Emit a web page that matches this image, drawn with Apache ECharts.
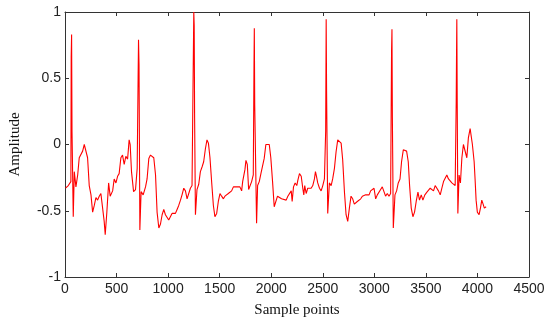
<!DOCTYPE html>
<html>
<head>
<meta charset="utf-8">
<script src="https://cdn.jsdelivr.net/npm/echarts@6/dist/echarts.min.js"></script>
<style>
html,body{margin:0;padding:0;background:#fff;}
#chart{width:550px;height:328px;}
</style>
</head>
<body>
<div id="chart"></div>
<script>
// Sample index of each point
var samples = [
  5, 10, 32, 48, 57, 60, 64, 68, 80, 90, 106, 123, 138, 155, 171, 187, 203, 219, 235, 252,
  268, 284, 300, 316, 332, 348, 365, 380, 390, 406, 423, 438, 462, 477, 494, 510, 525, 542, 558, 574,
  590, 607, 622, 632, 645, 665, 684, 700, 709, 713, 718, 726, 738, 758, 781, 796, 813, 829, 845, 861,
  878, 893, 910, 926, 942, 958, 974, 990, 1006, 1023, 1038, 1055, 1071, 1087, 1103, 1120, 1135, 1152, 1168, 1184,
  1200, 1216, 1232, 1238, 1249, 1253, 1257, 1265, 1280, 1297, 1313, 1329, 1345, 1362, 1377, 1391, 1406, 1423, 1439, 1454,
  1471, 1487, 1503, 1519, 1536, 1551, 1568, 1584, 1600, 1616, 1633, 1648, 1664, 1681, 1696, 1713, 1723, 1735, 1745, 1755,
  1768, 1781, 1794, 1810, 1826, 1833, 1836, 1840, 1858, 1868, 1884, 1900, 1916, 1932, 1948, 1964, 1981, 1996, 2013, 2029,
  2045, 2061, 2077, 2100, 2113, 2145, 2161, 2177, 2194, 2203, 2216, 2232, 2248, 2258, 2274, 2291, 2306, 2316, 2325, 2339,
  2354, 2371, 2387, 2403, 2419, 2429, 2439, 2451, 2468, 2484, 2500, 2516, 2528, 2533, 2537, 2548, 2564, 2581, 2596, 2613,
  2629, 2645, 2661, 2678, 2693, 2710, 2726, 2742, 2758, 2774, 2790, 2806, 2819, 2835, 2851, 2868, 2884, 2916, 2949, 2964,
  2981, 2997, 3013, 3029, 3045, 3061, 3077, 3093, 3109, 3126, 3142, 3158, 3167, 3171, 3175, 3184, 3200, 3216, 3232, 3249,
  3264, 3281, 3297, 3313, 3329, 3342, 3358, 3374, 3390, 3406, 3423, 3438, 3455, 3471, 3490, 3510, 3526, 3542, 3558, 3574,
  3590, 3607, 3622, 3639, 3655, 3671, 3687, 3703, 3719, 3735, 3752, 3767, 3784, 3794, 3797, 3800, 3804, 3810, 3822, 3835,
  3849, 3864, 3880, 3897, 3912, 3929, 3938, 3951, 3968, 3977, 3987, 3999, 4016, 4029, 4042, 4055, 4067, 4084
];
// Amplitude of each point
var amplitude = [
  -0.33, -0.33, -0.31, -0.30, -0.28, 0.66, 0.83, 0.10, -0.545, -0.205, -0.32, -0.23, -0.10, -0.10, -0.05, 0.0, 0.0, -0.10, -0.31, -0.38,
  -0.51, -0.46, -0.40, -0.42, -0.39, -0.37, -0.38, -0.58, -0.68, -0.51, -0.29, -0.39, -0.35, -0.26, -0.29, -0.24, -0.22, -0.10, -0.08, -0.15,
  -0.09, -0.11, 0.035, 0.0, -0.205, -0.356, -0.34, -0.18, 0.50, 0.79, 0.60, -0.645, -0.356, -0.38, -0.32, -0.26, -0.105, -0.08, -0.067, -0.10,
  -0.23, -0.51, -0.63, -0.60, -0.53, -0.49, -0.53, -0.545, -0.57, -0.56, -0.52, -0.51, -0.52, -0.49, -0.46, -0.42, -0.38, -0.33, -0.35, -0.41,
  -0.40, -0.33, -0.31, 0.16, 1.0, 0.90, 0.20, -0.53, -0.34, -0.30, -0.205, -0.17, -0.13, -0.03, 0.035, 0.01, -0.10, -0.29, -0.46, -0.545,
  -0.52, -0.43, -0.37, -0.39, -0.41, -0.39, -0.38, -0.37, -0.36, -0.35, -0.32, -0.31, -0.32, -0.31, -0.32, -0.35, -0.28, -0.27, -0.19, -0.12,
  -0.15, -0.34, -0.35, -0.28, -0.23, 0.61, 0.877, 0.30, -0.595, -0.31, -0.28, -0.22, -0.21, -0.105, 0.0, 0.01, 0.0, -0.10, -0.28, -0.47,
  -0.48, -0.39, -0.40, -0.41, -0.42, -0.42, -0.39, -0.38, -0.35, -0.43, -0.32, -0.29, -0.31, -0.27, -0.22, -0.24, -0.33, -0.38, -0.31, -0.37,
  -0.33, -0.32, -0.33, -0.31, -0.26, -0.205, -0.24, -0.29, -0.33, -0.35, -0.31, -0.26, 0.10, 0.945, 0.40, -0.52, -0.29, -0.31, -0.26, -0.18,
  -0.055, 0.035, 0.02, 0.01, -0.115, -0.356, -0.53, -0.58, -0.48, -0.39, -0.41, -0.45, -0.45, -0.43, -0.44, -0.41, -0.39, -0.38, -0.38, -0.35,
  -0.34, -0.33, -0.41, -0.38, -0.39, -0.34, -0.32, -0.33, -0.39, -0.37, -0.39, -0.37, 0.70, 0.87, 0.20, -0.63, -0.38, -0.35, -0.29, -0.26,
  -0.13, -0.04, -0.05, -0.05, -0.13, -0.31, -0.48, -0.545, -0.51, -0.43, -0.36, -0.42, -0.38, -0.42, -0.38, -0.36, -0.35, -0.33, -0.32, -0.35,
  -0.31, -0.32, -0.35, -0.38, -0.33, -0.28, -0.27, -0.23, -0.26, -0.27, -0.29, -0.28, -0.31, 0.32, 0.66, 0.945, 0.30, -0.52, -0.23, -0.29,
  -0.10, 0.0, -0.01, -0.10, 0.05, 0.12, 0.11, 0.0, -0.13, -0.26, -0.42, -0.51, -0.53, -0.48, -0.42, -0.45, -0.48, -0.47
];
var xTicks = [0, 500, 1000, 1500, 2000, 2500, 3000, 3500, 4000, 4500];
var yTicks = [-1, -0.5, 0, 0.5, 1];
var xTitle = 'Sample points';
var yTitle = 'Amplitude';

var points = samples.map(function (s, i) { return [s, amplitude[i]]; });
var axisColor = '#333';
var labelFont = { color: '#222', fontSize: 14, fontFamily: 'Liberation Sans, Arial, sans-serif',
  formatter: function (v) { return String(v); } };

var chart = echarts.init(document.getElementById('chart'));
chart.setOption({
  animation: false,
  backgroundColor: '#fff',
  grid: { left: 64, right: 21, top: 12, bottom: 51, containLabel: false },
  xAxis: [{
    type: 'value', min: xTicks[0], max: xTicks[xTicks.length - 1], interval: 500,
    position: 'bottom',
    name: xTitle, nameLocation: 'middle', nameGap: 26,
    nameTextStyle: { color: '#111', fontSize: 15, fontFamily: 'Liberation Serif, Times New Roman, serif' },
    axisLine: { show: true, onZero: false, lineStyle: { color: axisColor, width: 1 } },
    axisTick: { show: true, inside: true, length: 4, lineStyle: { color: axisColor } },
    axisLabel: Object.assign({ margin: 5 }, labelFont),
    splitLine: { show: false }
  }, {
    type: 'value', min: xTicks[0], max: xTicks[xTicks.length - 1], interval: 500,
    position: 'top',
    axisLine: { show: true, onZero: false, lineStyle: { color: axisColor, width: 1 } },
    axisTick: { show: true, inside: true, length: 4, lineStyle: { color: axisColor } },
    axisLabel: { show: false },
    splitLine: { show: false }
  }],
  yAxis: [{
    type: 'value', min: yTicks[0], max: yTicks[yTicks.length - 1], interval: 0.5,
    position: 'left',
    name: yTitle, nameLocation: 'middle', nameGap: 42, nameRotate: 90,
    nameTextStyle: { color: '#111', fontSize: 15, fontFamily: 'Liberation Serif, Times New Roman, serif' },
    axisLine: { show: true, onZero: false, lineStyle: { color: axisColor, width: 1 } },
    axisTick: { show: true, inside: true, length: 4, lineStyle: { color: axisColor } },
    axisLabel: Object.assign({ margin: 4 }, labelFont),
    splitLine: { show: false }
  }, {
    type: 'value', min: yTicks[0], max: yTicks[yTicks.length - 1], interval: 0.5,
    position: 'right',
    axisLine: { show: true, onZero: false, lineStyle: { color: axisColor, width: 1 } },
    axisTick: { show: true, inside: true, length: 4, lineStyle: { color: axisColor } },
    axisLabel: { show: false },
    splitLine: { show: false }
  }],
  series: [{
    type: 'line',
    data: points,
    xAxisIndex: 0, yAxisIndex: 0,
    showSymbol: false,
    symbol: 'none',
    clip: true,
    lineStyle: { color: '#ff0000', width: 1.1 }
  }]
});
</script>
</body>
</html>
